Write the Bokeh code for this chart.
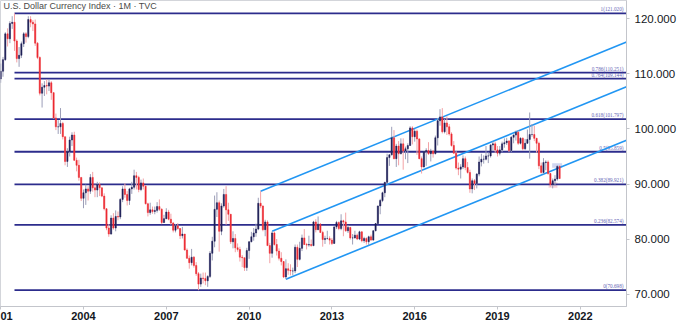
from bokeh.plotting import figure
from bokeh.models import Range1d, FixedTicker, PrintfTickFormatter, Label, ColumnDataSource
from bokeh.embed import file_html
from bokeh.resources import INLINE

# ---------------- data (monthly U.S. Dollar Index) ----------------
start_year = 2001
first_open = 109.1
closes = [
    110.5, 112.6, 117.3, 116.4, 119.2, 119.4, 116.0, 112.8, 113.4, 115.5, 117.3, 116.8,  # 2001
    119.9, 119.4, 119.1, 115.6, 113.0, 106.5, 107.6, 107.9, 107.8, 108.4, 106.6, 102.0,  # 2002
    100.4, 100.4, 101.0, 98.6, 94.1, 95.9, 98.0, 98.9, 94.3, 93.4, 91.2, 87.4,  # 2003
    88.4, 89.1, 88.7, 91.2, 89.3, 88.9, 89.9, 89.3, 87.8, 85.5, 82.0, 80.9,  # 2004
    83.8, 82.0, 84.1, 84.0, 87.2, 89.1, 88.1, 87.0, 89.1, 89.4, 91.5, 91.2,  # 2005
    89.0, 90.2, 89.6, 86.4, 84.8, 85.3, 85.0, 85.2, 85.9, 85.4, 83.0, 83.7,  # 2006
    84.9, 83.6, 82.9, 81.6, 82.4, 81.9, 80.6, 80.9, 78.0, 76.5, 75.7, 76.7,  # 2007
    75.2, 73.7, 71.8, 72.9, 72.8, 72.4, 73.2, 77.4, 79.6, 85.4, 86.6, 81.4,  # 2008
    86.0, 88.1, 85.3, 84.5, 79.5, 80.1, 78.4, 78.1, 76.7, 76.6, 74.8, 77.9,  # 2009
    79.5, 80.4, 81.1, 81.8, 86.5, 86.0, 81.7, 83.1, 78.8, 77.4, 81.1, 79.0,  # 2010
    77.8, 76.5, 75.9, 73.1, 74.6, 74.3, 74.2, 74.2, 78.5, 76.3, 78.3, 80.2,  # 2011
    79.0, 78.9, 79.0, 78.8, 83.1, 81.7, 82.7, 81.2, 79.9, 80.1, 80.1, 79.8,  # 2012
    79.2, 82.2, 83.0, 81.9, 83.3, 83.1, 81.5, 82.1, 80.2, 80.2, 80.7, 80.0,  # 2013
    81.3, 79.7, 80.1, 79.5, 80.4, 79.8, 81.5, 82.8, 86.0, 87.0, 88.4, 90.3,  # 2014
    94.8, 95.3, 98.4, 94.6, 96.9, 95.5, 97.3, 96.0, 96.4, 97.0, 100.2, 98.6,  # 2015
    99.6, 98.2, 94.6, 93.1, 95.9, 96.1, 95.5, 96.0, 95.5, 98.4, 101.5, 102.2,  # 2016
    99.5, 101.1, 100.4, 99.1, 97.0, 95.6, 92.9, 92.7, 93.1, 94.6, 93.0, 92.1,  # 2017
    89.1, 90.6, 90.1, 91.8, 94.0, 94.5, 94.5, 95.1, 95.1, 97.1, 97.3, 96.2,  # 2018
    95.6, 96.2, 97.3, 97.5, 97.8, 96.1, 98.5, 98.9, 99.4, 97.4, 98.3, 96.4,  # 2019
    97.4, 98.1, 99.0, 99.0, 98.3, 97.4, 93.3, 92.1, 93.9, 94.0, 91.9, 89.9,  # 2020
    90.6, 90.9, 93.2, 91.0,  # 2021
]
highs = [
    111.9, 113.1, 117.6, 118.3, 119.6, 120.5, 121.02, 116.3, 114.9, 115.9, 117.6, 117.6,
    120.5, 120.5, 119.8, 119.9, 115.8, 113.2, 108.3, 108.7, 109.0, 109.0, 108.7, 106.7,
    102.8, 101.6, 103.8, 101.3, 98.6, 96.5, 98.6, 99.4, 99.5, 94.8, 94.4, 91.2,
    89.0, 89.9, 89.6, 91.8, 92.2, 89.9, 90.4, 90.3, 89.4, 88.3, 85.6, 82.7,
    84.3, 84.7, 85.2, 85.0, 87.4, 89.6, 90.1, 88.7, 89.3, 90.4, 92.6, 92.2,
    91.5, 90.8, 91.0, 89.8, 86.6, 86.6, 85.9, 85.9, 86.7, 87.2, 85.6, 84.4,
    85.6, 85.3, 84.6, 83.1, 82.7, 82.9, 82.0, 82.2, 80.9, 78.3, 77.0, 78.2,
    76.9, 75.8, 74.0, 73.7, 73.9, 73.9, 73.4, 77.8, 80.4, 87.9, 88.5, 87.0,
    86.5, 89.1, 89.6, 86.6, 84.5, 81.4, 80.9, 79.2, 78.6, 77.1, 76.6, 78.4,
    79.6, 81.3, 82.0, 82.8, 87.5, 88.7, 86.1, 83.5, 83.4, 79.3, 81.4, 81.4,
    80.0, 78.3, 77.6, 76.0, 76.3, 75.6, 75.4, 74.8, 79.0, 79.0, 79.5, 80.8,
    81.8, 79.3, 80.6, 79.9, 83.3, 83.6, 84.1, 82.9, 81.5, 80.6, 81.5, 80.5,
    80.2, 82.3, 83.3, 83.2, 84.5, 83.5, 84.8, 82.5, 82.2, 80.9, 81.5, 81.0,
    81.5, 81.4, 80.4, 80.3, 80.6, 80.8, 81.6, 82.9, 86.1, 87.3, 88.6, 90.4,
    95.5, 95.4, 100.4, 99.8, 97.3, 97.8, 98.3, 98.3, 96.8, 97.4, 100.5, 100.5,
    100.0, 99.9, 98.3, 95.0, 96.0, 96.5, 97.6, 96.4, 96.2, 98.8, 102.0, 103.6,
    103.8, 101.8, 102.3, 100.9, 99.4, 97.8, 96.0, 93.9, 93.6, 95.2, 95.0, 94.0,
    92.6, 91.0, 90.9, 92.0, 95.0, 95.5, 95.2, 96.9, 95.7, 97.2, 97.7, 97.7,
    96.9, 96.9, 97.7, 98.3, 98.4, 98.0, 98.7, 99.0, 99.7, 99.7, 98.5, 98.5,
    98.2, 99.9, 103.0, 100.9, 100.6, 98.4, 97.7, 93.9, 94.7, 94.3, 94.3, 92.0,
    91.0, 91.6, 93.4, 93.4,
]
lows = [
    108.4, 109.5, 112.4, 115.0, 115.6, 118.2, 114.2, 112.1, 111.3, 112.9, 114.9, 115.7,
    116.5, 118.5, 117.8, 115.1, 112.7, 106.1, 103.9, 106.0, 106.3, 106.9, 105.3, 101.9,
    99.8, 99.1, 99.1, 98.1, 93.4, 93.1, 95.0, 96.9, 94.2, 92.3, 90.6, 86.9,
    85.6, 86.2, 87.0, 88.2, 88.6, 87.6, 87.6, 87.8, 87.6, 85.2, 81.6, 80.4,
    80.8, 81.7, 81.4, 83.4, 83.6, 86.7, 87.5, 86.1, 86.2, 88.2, 89.0, 89.0,
    88.5, 88.7, 89.0, 86.3, 84.1, 84.4, 84.6, 84.5, 84.8, 85.1, 82.7, 82.9,
    83.6, 83.4, 82.6, 81.2, 81.2, 81.7, 80.0, 80.1, 77.9, 76.4, 74.6, 75.2,
    74.8, 73.3, 70.698, 71.3, 71.9, 71.6, 71.3, 72.9, 76.1, 78.5, 84.0, 77.7,
    80.7, 85.7, 82.6, 83.3, 79.1, 78.3, 77.6, 77.7, 75.9, 74.9, 74.2, 74.2,
    76.4, 79.4, 79.7, 80.4, 81.6, 85.6, 81.4, 80.5, 78.8, 75.6, 76.6, 78.8,
    77.0, 76.1, 75.2, 72.9, 72.7, 73.5, 73.4, 73.4, 73.8, 74.9, 76.1, 77.8,
    78.9, 78.1, 78.6, 78.6, 78.7, 81.2, 81.6, 81.1, 78.6, 79.1, 79.9, 79.0,
    78.9, 79.1, 81.8, 81.6, 81.6, 80.5, 81.3, 81.1, 79.9, 79.0, 80.1, 79.8,
    79.8, 79.4, 79.3, 79.0, 78.9, 79.7, 79.7, 81.4, 82.7, 84.5, 86.7, 87.6,
    90.1, 93.3, 95.2, 94.5, 93.1, 93.4, 95.4, 92.6, 94.5, 93.8, 96.9, 97.2,
    97.7, 95.3, 94.5, 91.9, 93.0, 93.3, 95.3, 94.1, 94.8, 95.4, 97.0, 100.6,
    99.2, 99.2, 98.9, 98.8, 96.8, 95.5, 92.6, 91.6, 91.0, 92.7, 92.5, 91.9,
    88.4, 88.3, 88.9, 89.2, 91.4, 93.2, 93.7, 94.3, 93.8, 94.8, 96.0, 95.7,
    95.0, 95.2, 95.8, 96.6, 97.1, 95.8, 95.8, 97.4, 97.9, 97.1, 97.2, 96.1,
    96.2, 97.3, 94.6, 98.6, 97.8, 95.7, 92.7, 91.9, 91.8, 92.5, 91.7, 89.5,
    89.2, 89.7, 90.6, 90.9,
]

fib_ratios = [0, 0.236, 0.382, 0.5, 0.618, 0.764, 0.786, 1]

channel_anchor_dates = [2010 + 5 / 12, 2010 + 10 / 12, 2011 + 4 / 12]
channel_anchor_values = [88.7, 81.4, 72.7]
channel_slope = 2.045  # index points per year

box_left = [2020.98, 2020.85]
box_right = [2021.34, 2021.17]
box_bottom = [92.95, 89.31]
box_top = [93.78, 90.33]
box_colors = ["#aab4e6", "#f5b3bb"]

x_ticks = [2001, 2004, 2007, 2010, 2013, 2016, 2019, 2022]
x_tick_labels = ["01", "2004", "2007", "2010", "2013", "2016", "2019", "2022"]  # first one is cut at the edge
y_ticks = [70, 80, 90, 100, 110, 120]

title_text = "U.S. Dollar Currency Index \u00b7 1M \u00b7 TVC"

# ---------------- derived ----------------
n = len(closes)
xs = [start_year + i / 12 for i in range(n)]
opens = [first_open] + closes[:-1]

X0, X1 = 2000.993, 2023.674
Y0, Y1 = 67.73, 123.36

UP_BODY, UP_WICK = "#1e1f57", "#9c9eb8"
DN_BODY, DN_WICK = "#ec2a32", "#f3a2a6"

def subset(flag):
    d = dict(x=[], lo=[], hi=[], top=[], bot=[])
    for x, o, h, l, c in zip(xs, opens, highs, lows, closes):
        if (c >= o) == flag:
            d["x"].append(x)
            d["lo"].append(l)
            d["hi"].append(h)
            d["top"].append(max(o, c))
            d["bot"].append(min(o, c))
    return ColumnDataSource(d)

up_src = subset(True)
dn_src = subset(False)

p = figure(width=679, height=327, output_backend="svg", toolbar_location=None,
           x_range=Range1d(X0, X1), y_range=Range1d(Y0, Y1),
           y_axis_location="right",
           min_border_left=0, min_border_top=0, min_border_right=53, min_border_bottom=21)
p.background_fill_color = "white"
p.border_fill_color = "white"
p.outline_line_color = "#d3d5da"
p.xgrid.visible = False
p.ygrid.visible = False

# highlight boxes
p.quad(left=box_left, right=box_right, bottom=box_bottom, top=box_top,
       fill_color=box_colors, fill_alpha=0.55, line_color=None)

# fib retracement
hi_val = max(highs)
lo_val = min(lows)
fib_x0 = xs[highs.index(hi_val)]
fib_levels = [lo_val + r * (hi_val - lo_val) for r in fib_ratios]
fib_text = ["%s(%.3f)" % (("%g" % r), v) for r, v in zip(fib_ratios, fib_levels)]
p.segment(x0=[fib_x0] * len(fib_levels), x1=[X1] * len(fib_levels),
          y0=fib_levels, y1=fib_levels, line_color="#2c2c8c", line_width=1.8)
p.text(x=[X1] * len(fib_levels), y=fib_levels, text=fib_text, text_align="right",
       text_baseline="bottom", x_offset=-3, y_offset=-1, text_font_size="5.2px",
       text_color="#6464b4", text_font="Liberation Sans")

# parallel channel lines
ch_end = [v + channel_slope * (X1 - d) for d, v in zip(channel_anchor_dates, channel_anchor_values)]
p.segment(x0=channel_anchor_dates, y0=channel_anchor_values, x1=[X1] * 3, y1=ch_end,
          line_color="#2196f3", line_width=1.6)

# candles
bw = 0.045
p.segment(x0="x", x1="x", y0="lo", y1="hi", source=up_src, line_color=UP_WICK, line_width=1)
p.segment(x0="x", x1="x", y0="lo", y1="hi", source=dn_src, line_color=DN_WICK, line_width=1)
p.vbar(x="x", width=bw, top="top", bottom="bot", source=up_src,
       fill_color=UP_BODY, line_color=UP_BODY, line_width=0.5)
p.vbar(x="x", width=bw, top="top", bottom="bot", source=dn_src,
       fill_color=DN_BODY, line_color=DN_BODY, line_width=0.5)

# title
p.add_layout(Label(x=X0 + 3 / 27.6, y=120 + 12.5 / 5.5, text=title_text,
                   text_font_size="9px", text_color="#4a4a4a", text_font="Liberation Sans",
                   text_baseline="middle"))
# settings icon in the corner (screen units)
p.add_layout(Label(x=653, y=11, x_units="screen", y_units="screen", text="\u263c",
                   text_font_size="11px", text_color="#555555", text_font="DejaVu Sans",
                   text_align="center", text_baseline="middle"))

# axes
xa = p.xaxis[0]
ya = p.yaxis[0]
for ax in (xa, ya):
    ax.axis_line_color = "#c3c5cb"
    ax.major_tick_line_color = "#c3c5cb"
    ax.major_tick_out = 3
    ax.major_tick_in = 0
    ax.minor_tick_line_color = None
    ax.major_label_text_color = "#131722"
    ax.major_label_text_font = "Liberation Sans"

xa.ticker = FixedTicker(ticks=x_ticks)
xa.major_label_overrides = {t: s for t, s in zip(x_ticks, x_tick_labels)}
xa.major_label_text_font_size = "11px"
xa.major_label_text_font_style = "bold"
xa.major_label_standoff = 2

ya.ticker = FixedTicker(ticks=y_ticks)
ya.formatter = PrintfTickFormatter(format="%.3f")
ya.major_label_text_font_size = "11.5px"
ya.major_label_standoff = 5

open("out.html", "w").write(file_html(p, INLINE))
